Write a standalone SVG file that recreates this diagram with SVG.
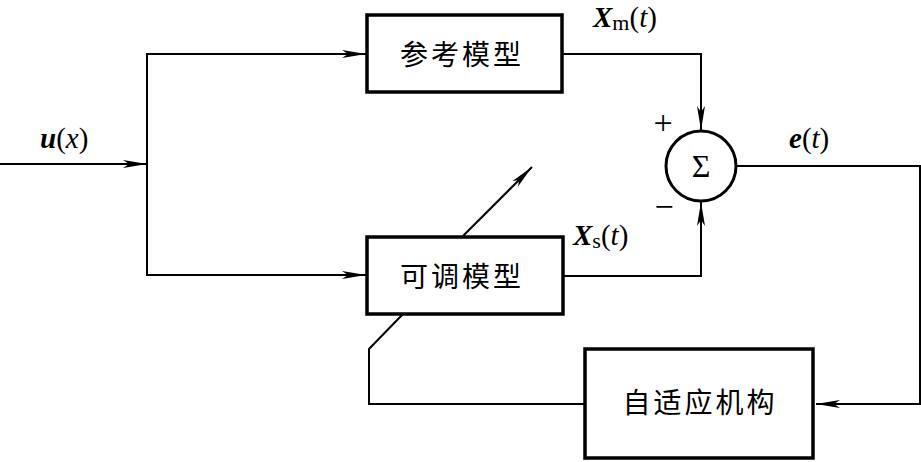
<svg xmlns="http://www.w3.org/2000/svg" width="921" height="462" viewBox="0 0 921 462">
<style>
.box{fill:#fff;stroke:#000;stroke-width:3.5}
.ln{fill:none;stroke:#000;stroke-width:2}
.cjk{font-family:"Noto Sans CJK SC","Noto Sans CJK JP",sans-serif;font-size:28px;letter-spacing:3px;fill:#000}
.lab{font-family:"Liberation Serif","Times New Roman",serif;font-size:29px;fill:#000}
.bi{font-weight:bold;font-style:italic}
.it{font-style:italic}
.sgn{font-family:"Liberation Serif",serif;font-size:34px;fill:#000}
</style>
<defs>
<marker id="ah" markerWidth="26" markerHeight="10" refX="24" refY="5" orient="auto" markerUnits="userSpaceOnUse">
<path d="M24,5 L0,1 L6,5 L0,9 Z" fill="#000"/>
</marker>
</defs>
<rect width="921" height="462" fill="#fff"/>
<g id="connectors">
<path class="ln" d="M0,164 H147" marker-end="url(#ah)"/>
<path class="ln" d="M147,164 V54 H366" marker-end="url(#ah)"/>
<path class="ln" d="M147,164 V275 H366" marker-end="url(#ah)"/>
<path class="ln" d="M562,54 H701 V130" marker-end="url(#ah)"/>
<path class="ln" d="M563,276 H701 V202" marker-end="url(#ah)"/>
<path class="ln" d="M737,166 H920 V404 H816" marker-end="url(#ah)"/>
<path class="ln" d="M585,404 H369 V349 L403,314"/>
<path class="ln" d="M463,236 L532,167" marker-end="url(#ah)"/>
</g>
<g id="ref-model">
<rect class="box" x="367" y="15" width="195" height="77"/>
<text class="cjk" x="462" y="65" text-anchor="middle">参考模型</text>
</g>
<g id="adj-model">
<rect class="box" x="367" y="237" width="196" height="77"/>
<text class="cjk" x="462" y="287" text-anchor="middle">可调模型</text>
</g>
<g id="adapt">
<rect class="box" x="585" y="349" width="228" height="109"/>
<text class="cjk" x="700" y="413" text-anchor="middle">自适应机构</text>
</g>
<g id="sum">
<circle cx="701" cy="166" r="35" fill="#fff" stroke="#000" stroke-width="3"/>
<text class="lab" x="701" y="177" text-anchor="middle" style="font-size:32px">Σ</text>
<text class="sgn" x="663" y="134" text-anchor="middle">+</text>
<text class="sgn" x="664" y="218" text-anchor="middle">−</text>
</g>
<g id="labels">
<text class="lab" x="40" y="148"><tspan class="bi">u</tspan>(<tspan class="it">x</tspan>)</text>
<text class="lab" x="593" y="27"><tspan class="bi">X</tspan><tspan style="font-size:22px" dy="3">m</tspan><tspan dy="-3">(</tspan><tspan class="it">t</tspan>)</text>
<text class="lab" x="573" y="245"><tspan class="bi">X</tspan><tspan style="font-size:22px" dy="3">s</tspan><tspan dy="-3">(</tspan><tspan class="it">t</tspan>)</text>
<text class="lab" x="789" y="148"><tspan class="bi">e</tspan>(<tspan class="it">t</tspan>)</text>
</g>
</svg>
